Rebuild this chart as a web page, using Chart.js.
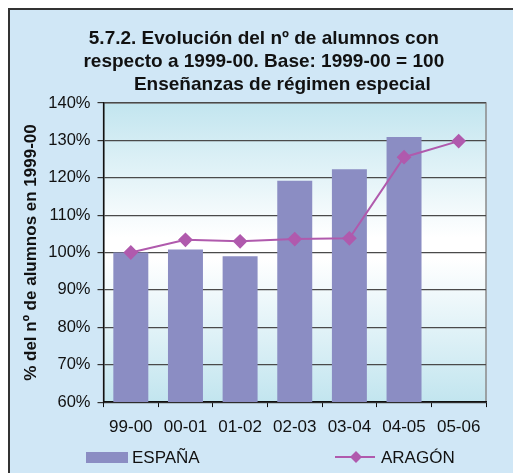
<!DOCTYPE html>
<html>
<head>
<meta charset="utf-8">
<script src="https://cdn.jsdelivr.net/npm/chart.js@4/dist/chart.umd.min.js"></script>
<style>
  html, body { margin: 0; padding: 0; background: #fff; }
  #wrap { position: relative; width: 513px; height: 473px; overflow: hidden; }
  #frame {
    position: absolute; left: 8px; top: 8px; width: 520px; height: 480px;
    background: #d0e7f6; border-left: 2px solid #333; border-top: 2px solid #333;
  }
  #chart { position: absolute; left: 0; top: 0; }
</style>
</head>
<body>
<div id="wrap">
  <div id="frame"></div>
  <canvas id="chart" width="513" height="473"></canvas>
</div>
<script>
// Datos (índice 1999-00 = 100)
const cursos = ['99-00', '00-01', '01-02', '02-03', '03-04', '04-05', '05-06'];
const espana = [100, 100.8, 99.0, 119.2, 122.3, 130.9, null];
const aragon = [100, 103.4, 103.0, 103.6, 103.8, 125.5, 129.8];
const yTicks = [60, 70, 80, 90, 100, 110, 120, 130, 140];

const FONT = '"Liberation Sans", Arial, Helvetica, sans-serif';
const barColor = '#8b8dc3';
const lineColor = '#b05aad';

// fondo degradado del área de trazado
const plotBackground = {
    id: 'plotBackground',
    beforeDraw(chart) {
        const { ctx, chartArea: a } = chart;
        const g = ctx.createLinearGradient(0, a.top, 0, a.bottom);
        g.addColorStop(0, '#c2e5ef');
        g.addColorStop(0.45, '#ffffff');
        g.addColorStop(0.52, '#ffffff');
        g.addColorStop(1, '#c2e5ef');
        ctx.save();
        ctx.fillStyle = g;
        ctx.fillRect(a.left, a.top, a.right - a.left, a.bottom - a.top);
        ctx.strokeStyle = '#8a8a8a';
        ctx.lineWidth = 1.5;
        ctx.strokeRect(a.left, a.top, a.right - a.left, a.bottom - a.top);
        ctx.restore();
    }
};

// leyenda dibujada a mano (rectángulo para ESPAÑA, línea con rombo para ARAGÓN)
const customLegend = {
    id: 'customLegend',
    afterDraw(chart) {
        const { ctx } = chart;
        const ds = chart.data.datasets;
        const y = 457;
        ctx.save();
        ctx.font = '17px ' + FONT;
        ctx.textBaseline = 'middle';

        ctx.fillStyle = ds[0].backgroundColor;
        ctx.fillRect(86, y - 5, 42, 11);
        ctx.fillStyle = '#111';
        ctx.fillText(ds[0].label, 132, y + 1);

        ctx.strokeStyle = ds[1].borderColor;
        ctx.lineWidth = 2;
        ctx.beginPath();
        ctx.moveTo(335, y);
        ctx.lineTo(375, y);
        ctx.stroke();
        ctx.fillStyle = ds[1].pointBackgroundColor;
        ctx.beginPath();
        ctx.moveTo(356, y - 6);
        ctx.lineTo(362, y);
        ctx.lineTo(356, y + 6);
        ctx.lineTo(350, y);
        ctx.closePath();
        ctx.fill();
        ctx.fillStyle = '#111';
        ctx.fillText(ds[1].label, 381, y + 1);
        ctx.restore();
    }
};

const nb = n => '\u00a0'.repeat(n);

new Chart(document.getElementById('chart'), {
    data: {
        labels: cursos,
        datasets: [
            {
                type: 'bar',
                label: 'ESPAÑA',
                data: espana,
                backgroundColor: barColor,
                barPercentage: 0.64,
                categoryPercentage: 1,
                order: 2
            },
            {
                type: 'line',
                label: 'ARAGÓN',
                data: aragon,
                borderColor: lineColor,
                borderWidth: 2,
                pointStyle: 'rectRot',
                pointRadius: 6,
                pointBackgroundColor: lineColor,
                pointBorderColor: lineColor,
                tension: 0,
                order: 1
            }
        ]
    },
    options: {
        responsive: false,
        animation: false,
        devicePixelRatio: 1,
        layout: { padding: { left: 10, right: 27, top: 0, bottom: 25.5 } },
        plugins: {
            legend: { display: false },
            tooltip: { enabled: false },
            title: {
                display: true,
                text: [
                    nb(6) + '5.7.2. Evolución del nº de alumnos con',
                    nb(6) + 'respecto a 1999-00. Base: 1999-00 = 100',
                    nb(13) + 'Enseñanzas de régimen especial'
                ],
                color: '#111',
                font: { family: FONT, size: 19, weight: 'bold', lineHeight: 1.21 },
                padding: { top: 27, bottom: 7 }
            }
        },
        scales: {
            x: {
                offset: true,
                grid: { display: true, drawOnChartArea: false, drawTicks: true, tickLength: 5, color: '#111' },
                border: { color: '#111', width: 1.5 },
                ticks: { color: '#111', font: { family: FONT, size: 17 }, padding: 10, maxRotation: 0 }
            },
            y: {
                min: yTicks[0],
                max: yTicks[yTicks.length - 1],
                afterBuildTicks(s) { s.ticks = yTicks.map(v => ({ value: v })); },
                afterFit(s) { s.width = 93.5; },
                grid: { color: '#4a4a4a', lineWidth: 1.2, tickLength: 6, tickColor: '#333' },
                border: { color: '#111', width: 1.5 },
                ticks: {
                    color: '#111',
                    font: { family: FONT, size: 16.5 },
                    padding: 7,
                    callback: v => v + '%'
                },
                title: {
                    display: true,
                    text: '% del nº de alumnos en 1999-00',
                    color: '#111',
                    font: { family: FONT, size: 17, weight: 'bold' },
                    padding: { top: 11, bottom: 4 }
                }
            }
        }
    },
    plugins: [plotBackground, customLegend]
});
</script>
</body>
</html>
